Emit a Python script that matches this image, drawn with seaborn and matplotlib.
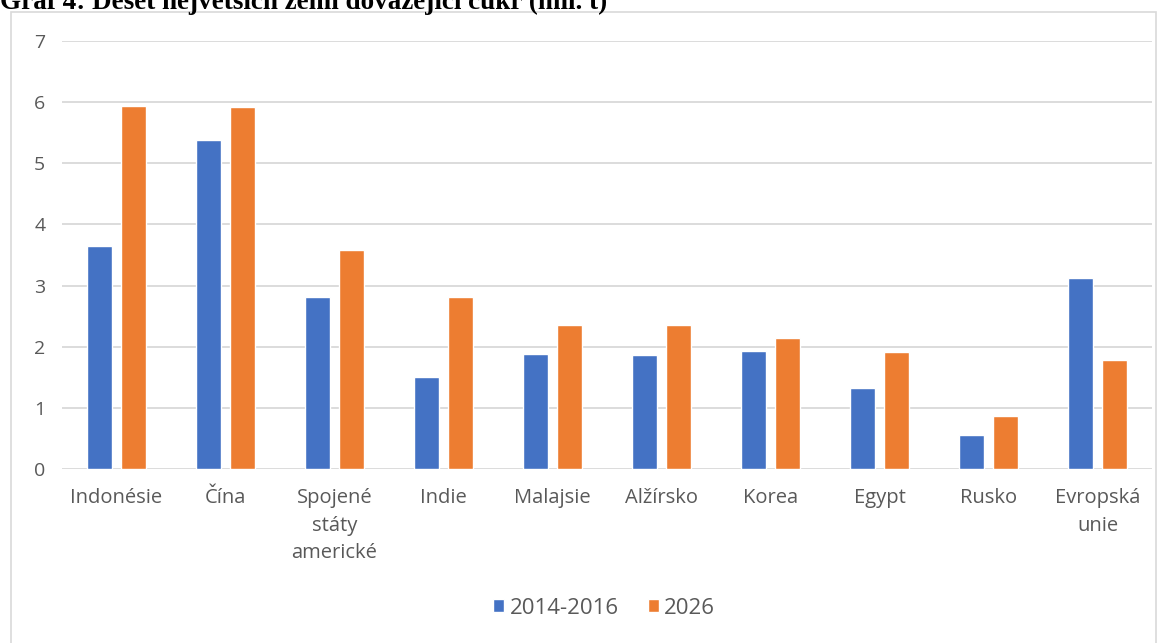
import matplotlib
matplotlib.use("Agg")
import matplotlib.pyplot as plt
import matplotlib.patches as mpatches
import seaborn as sns
import pandas as pd

countries = ["Indonésie", "Čína", "Spojené\nstáty\namerické", "Indie", "Malajsie",
             "Alžírsko", "Korea", "Egypt", "Rusko", "Evropská\nunie"]
period_labels = ["2014-2016", "2026"]
imports_2014_2016 = [3.65, 5.38, 2.82, 1.51, 1.88, 1.87, 1.93, 1.33, 0.55, 3.12]
imports_2026 = [5.94, 5.92, 3.58, 2.81, 2.36, 2.36, 2.15, 1.92, 0.86, 1.78]
y_ticks = [0, 1, 2, 3, 4, 5, 6, 7]

df = pd.DataFrame({
    "země": countries * 2,
    "období": [period_labels[0]] * len(countries) + [period_labels[1]] * len(countries),
    "dovoz": imports_2014_2016 + imports_2026,
})

sns.set_theme(style="white")
plt.rcParams["font.family"] = ["Open Sans", "DejaVu Sans"]
text_grey = "#595959"

W, H = 1169, 643
fig = plt.figure(figsize=(W / 100, H / 100), dpi=100)
fig.patch.set_facecolor("white")

# outer frame of the chart area
fig.add_artist(mpatches.Rectangle((11 / W, -0.05), (1156 - 11) / W, 1.05 - 12 / H,
                                  transform=fig.transFigure, fill=False,
                                  edgecolor="#d9d9d9", linewidth=1.2))

ax = fig.add_axes([62 / W, 1 - 469 / H, (1152 - 62) / W, (469 - 41) / H])
sns.barplot(data=df, x="země", y="dovoz", hue="období",
            palette=["#4472C4", "#ED7D31"], width=0.62, gap=0.24,
            saturation=1, ax=ax, legend=True)

ax.set_ylim(0, 7)
ax.set_xlim(-0.5, len(countries) - 0.5)
ax.set_yticks(y_ticks)
ax.yaxis.grid(True, color="#d9d9d9", linewidth=1.3)
ax.set_axisbelow(True)
for s in ax.spines.values():
    s.set_visible(False)
ax.tick_params(axis="both", length=0, labelcolor=text_grey)
ax.tick_params(axis="x", pad=14, labelsize=14.5)
ax.tick_params(axis="y", pad=12, labelsize=14)
ax.set_xlabel("")
ax.set_ylabel("")
for lbl in ax.get_xticklabels():
    lbl.set_linespacing(1.5)

handles, labels = ax.get_legend_handles_labels()
ax.get_legend().remove()
fig.legend(handles, labels, loc="center", bbox_to_anchor=(604 / W, 1 - 608 / H),
           ncol=2, frameon=False, fontsize=16, labelcolor=text_grey,
           handlelength=0.5, handleheight=0.5, handletextpad=0.25, columnspacing=1.3)

fig.text(0.0, 1 - 9 / H, "Graf 4: Deset největších zemí dovážející cukr (mil. t)",
         family="Liberation Serif", fontweight="bold", fontsize=19.5, va="baseline",
         ha="left", color="black")

fig.savefig("out.png", dpi=100)
